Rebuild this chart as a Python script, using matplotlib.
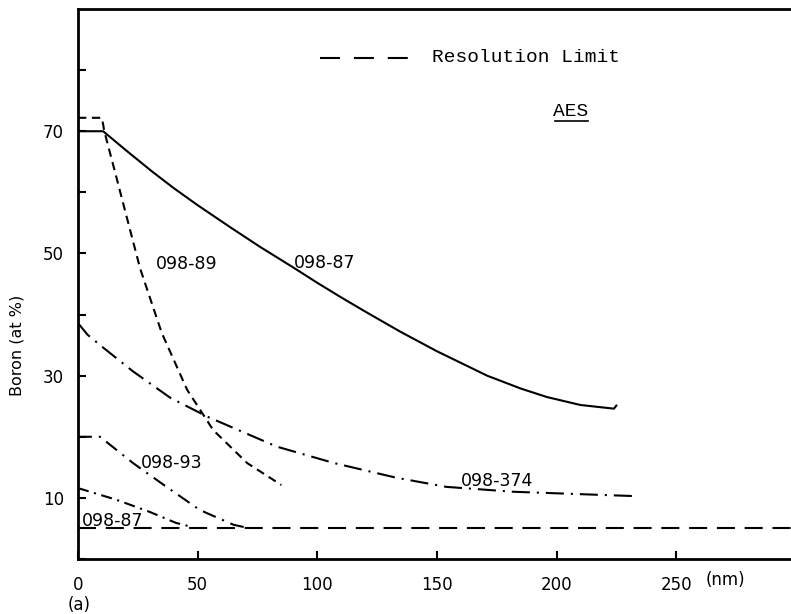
import matplotlib
matplotlib.use("Agg")
import matplotlib.pyplot as plt
import numpy as np

plt.rcParams['lines.scale_dashes'] = False

# sample 098-87 (solid, high boron)
x_8701 = [0, 10.5, 20, 31, 40, 50, 63.6, 76, 90, 100, 109.6, 120, 134.7, 150, 171, 185, 196, 210, 224, 225]
y_8701 = [70, 70, 66.9, 63.4, 60.7, 57.9, 54.3, 51.1, 47.7, 45.2, 42.9, 40.5, 37.2, 34.0, 30.0, 27.9, 26.5, 25.2, 24.6, 25.1]

# sample 098-89 (short dash)
x_89 = [0, 10, 11, 15.5, 20, 26, 35, 45.6, 56.5, 70.7, 85]
y_89 = [72.2, 72.2, 70, 63.3, 56.5, 47.5, 37, 27.7, 21.1, 15.7, 12.1]

# sample 098-374 (long dash dot)
x_374 = [0, 4, 10.5, 23, 38.5, 54, 83, 107, 133, 154, 182, 232]
y_374 = [38.6, 36.7, 34.6, 30.7, 26.4, 23.3, 18.4, 15.7, 13.3, 11.8, 11.0, 10.3]

# sample 098-93 (dash dot)
x_93 = [0, 9.2, 23, 37, 51, 65, 72]
y_93 = [20, 20, 15.7, 11.8, 8, 5.6, 5]

# sample 098-87 (low boron, dash dot)
x_8702 = [0, 16, 30, 41, 48]
y_8702 = [11.6, 9.7, 7.7, 5.9, 5.2]

# resolution limit
x_res = [0, 300]
y_res = [5, 5]

xticks = [0, 50, 100, 150, 200, 250]
ylabels_at = [10, 30, 50, 70]

fig = plt.figure(figsize=(7.91, 6.14), dpi=100)
ax = fig.add_axes([0.0986, 0.0896, 0.9014, 0.8957])
ax.set_xlim(0, 298)
ax.set_ylim(0, 90)

lw = 1.5
ax.plot(x_8701, y_8701, color='black', lw=lw)
ax.plot(x_89, y_89, color='black', lw=lw, dashes=(6, 4))
ax.plot(x_374, y_374, color='black', lw=lw, dashes=(13, 5, 1.5, 5))
ax.plot(x_93, y_93, color='black', lw=lw, dashes=(10, 5, 1.5, 5))
ax.plot(x_8702, y_8702, color='black', lw=lw, dashes=(8, 4, 1.5, 4))
ax.plot(x_res, y_res, color='black', lw=lw, dashes=(13, 7))

# curve labels
lab_font = dict(family='DejaVu Sans', fontsize=12.5, ha='center', va='center')
ax.text(45.6, 48.2, '098-89', **lab_font)
ax.text(103, 48.5, '098-87', **lab_font)
ax.text(39, 15.7, '098-93', **lab_font)
ax.text(175, 12.8, '098-374', **lab_font)
ax.text(14.5, 6.2, '098-87', **lab_font)

# legend drawn by hand
ax.plot([101, 138], [82.0, 82.0], color='black', lw=lw, dashes=(14.4, 10))
ax.text(148, 82.1, 'Resolution Limit', family='Liberation Mono', fontsize=14,
        ha='left', va='center')
ax.text(206, 73.2, 'AES', family='Liberation Mono', fontsize=14,
        ha='center', va='center')
ax.plot([199.5, 213], [71.6, 71.6], color='black', lw=1.2)

# axes styling
ax.spines['right'].set_visible(False)
for s in ['left', 'bottom', 'top']:
    ax.spines[s].set_linewidth(2)
ax.set_xticks(xticks)
ax.set_xticklabels([str(v) for v in xticks])
ax.set_yticks(range(0, 90, 10))
ax.set_yticklabels([str(v) if v in ylabels_at else '' for v in range(0, 90, 10)])
ax.tick_params(direction='in', length=6, width=1.5, labelsize=12, pad=10)
ax.tick_params(axis='x', pad=12)

fig.text(0.022, 0.438, 'Boron (at %)', rotation=90, ha='center', va='center',
         fontsize=11.5)
fig.text(0.917, 0.055, '(nm)', ha='center', va='center', fontsize=12)
fig.text(0.10, 0.015, '(a)', ha='center', va='center', fontsize=12)

fig.savefig('out.png', dpi=100)
